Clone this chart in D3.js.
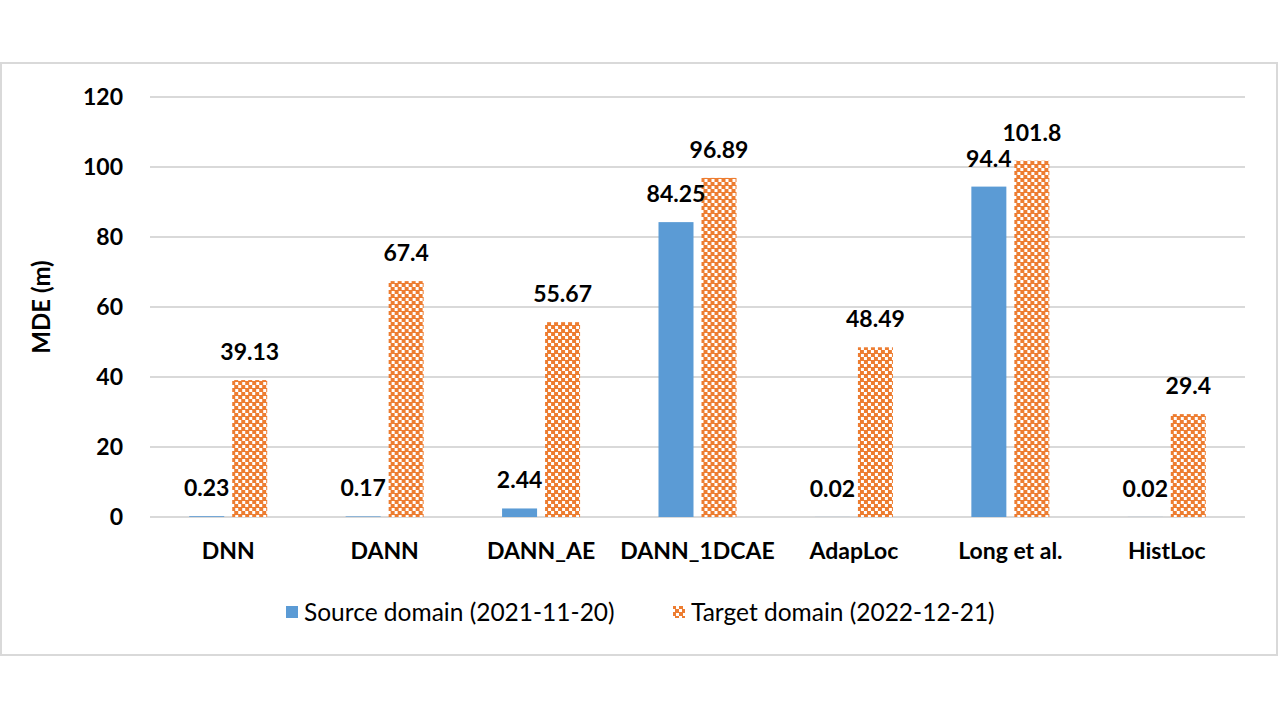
<!DOCTYPE html>
<html><head><meta charset="utf-8">
<script src="https://cdn.jsdelivr.net/npm/d3@7"></script>
<style>html,body{margin:0;padding:0;background:#fff;}</style>
</head><body>
<script>
const categories = ["DNN","DANN","DANN_AE","DANN_1DCAE","AdapLoc","Long et al.","HistLoc"];
const seriesNames = ["Source domain (2021-11-20)","Target domain (2022-12-21)"];
const sourceValues = [0.23,0.17,2.44,84.25,0.02,94.4,0.02];
const targetValues = [39.13,67.4,55.67,96.89,48.49,101.8,29.4];
const yTicks = [0,20,40,60,80,100,120];

(function(){
const W=1280,H=720;
const FONT="Lato, 'Open Sans', sans-serif";
const svg=d3.select("body").append("svg").attr("width",W).attr("height",H);
const defs=svg.append("defs");
const pat=defs.append("pattern").attr("id","checker").attr("patternUnits","userSpaceOnUse")
  .attr("width",7).attr("height",7);
pat.append("rect").attr("width",7).attr("height",7).attr("fill","#ED7D31");
pat.append("rect").attr("x",0).attr("y",0).attr("width",3).attr("height",3).attr("fill","#fff");
pat.append("rect").attr("x",4).attr("y",4).attr("width",3).attr("height",3).attr("fill","#fff");

svg.append("rect").attr("x",1).attr("y",63).attr("width",1276).attr("height",592)
  .attr("fill","#fff").attr("stroke","#d9d9d9").attr("stroke-width",2);

const pLeft=150,pRight=1245,pTop=97,pBottom=517;
const y=d3.scaleLinear().domain([0,120]).range([pBottom,pTop]);
const x0=d3.scaleBand().domain(categories).range([pLeft,pRight]).padding(0);
const x1=d3.scaleBand().domain(seriesNames).range([0,78]).paddingInner(8/43).paddingOuter(0);
const off=(x0.bandwidth()-78)/2;

svg.append("g").selectAll("line").data(yTicks).join("line")
  .attr("x1",pLeft).attr("x2",pRight).attr("y1",d=>y(d)).attr("y2",d=>y(d))
  .attr("stroke","#d9d9d9").attr("stroke-width",2);

const yAxis=d3.axisLeft(y).tickValues(yTicks).tickSize(0).tickPadding(0);
const ya=svg.append("g").attr("transform",`translate(123,0)`).call(yAxis);
ya.select(".domain").remove();
ya.selectAll("text").attr("font-family",FONT).attr("font-weight","bold").attr("font-size",23).attr("fill","#000");

const xAxis=d3.axisBottom(x0).tickSize(0).tickPadding(0);
const xa=svg.append("g").attr("transform",`translate(0,${pBottom})`).call(xAxis);
xa.select(".domain").remove();
xa.selectAll("text").attr("font-family",FONT).attr("font-weight","bold").attr("font-size",23).attr("fill","#000")
  .attr("dy",null).attr("y",42);

const data=categories.map((c,i)=>({c,vals:[{s:seriesNames[0],v:sourceValues[i]},{s:seriesNames[1],v:targetValues[i]}]}));
const g=svg.append("g").selectAll("g").data(data).join("g")
  .attr("transform",d=>`translate(${x0(d.c)+off},0)`);
g.selectAll("rect").data(d=>d.vals).join("rect")
  .attr("x",d=>x1(d.s)).attr("width",x1.bandwidth())
  .attr("y",d=>y(d.v)).attr("height",d=>pBottom-y(d.v))
  .attr("fill",(d,i)=>i===0?"#5B9BD5":"url(#checker)");
g.selectAll("text").data(d=>d.vals).join("text")
  .attr("x",d=>x1(d.s)+x1.bandwidth()/2).attr("y",d=>y(d.v)-20)
  .attr("text-anchor","middle").attr("font-family",FONT).attr("font-weight","bold")
  .attr("font-size",23).attr("fill","#000").text(d=>d.v);

svg.append("text").attr("transform","translate(50,307) rotate(-90)").attr("text-anchor","middle")
  .attr("font-family",FONT).attr("font-weight","bold").attr("font-size",24).attr("fill","#000").text("MDE (m)");

const leg=svg.append("g");
const legX=[286,673];
seriesNames.forEach((s,i)=>{
  leg.append("rect").attr("x",legX[i]).attr("y",606).attr("width",12).attr("height",12)
    .attr("fill",i===0?"#5B9BD5":"url(#checker)");
  leg.append("text").attr("x",legX[i]+18).attr("y",621).attr("font-family",FONT)
    .attr("font-size",24.5).attr("fill","#000").text(s);
});
})();
</script>
</body></html>
